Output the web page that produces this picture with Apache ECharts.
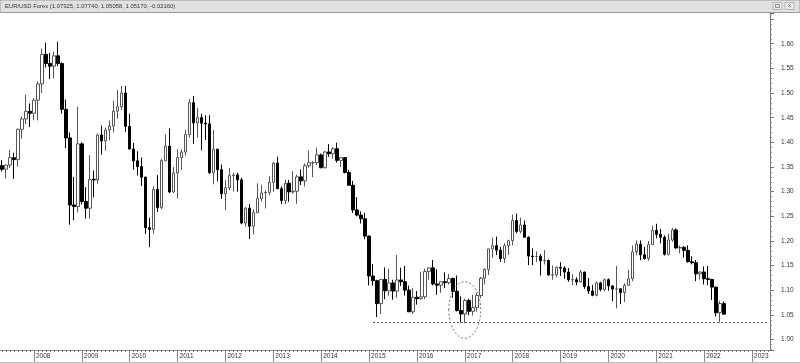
<!DOCTYPE html>
<html><head><meta charset="utf-8">
<script src="https://cdn.jsdelivr.net/npm/echarts@6/dist/echarts.min.js"></script>
<style>html,body{margin:0;padding:0;background:#fff}#c{width:800px;height:363px}</style>
</head><body><div id="c"></div>
<script>
// ---- data (monthly EUR/USD, May 2007 .. Jun 2022) ----
const symbolName = 'EUR/USD Forex';
const axisFirstYear = 2007;
const axisFirstMonth = 5;   // axis (and first candle) starts May 2007
const axisMonthCount = 193; // May 2007 .. May 2023
const yLabels = ['1.00','1.05','1.10','1.15','1.20','1.25','1.30','1.35','1.40','1.45','1.50','1.55','1.60'];

const opens = [
  1.3530,1.3455,1.3540,1.3690,1.3650,1.4265,1.4475,1.4630,
  1.4590,1.4855,1.5185,1.5785,1.5600,1.5545,1.5755,1.5600,1.4670,1.4090,1.2730,1.2700,
  1.3970,1.2800,1.2665,1.3250,1.3240,1.4150,1.4030,1.4250,1.4330,1.4635,1.4720,1.5000,
  1.4325,1.3865,1.3625,1.3510,1.3295,1.2270,1.2235,1.3045,1.2680,1.3630,1.3925,1.2995,
  1.3380,1.3690,1.3805,1.4160,1.4805,1.4395,1.4500,1.4390,1.4375,1.3385,1.3860,1.3445,
  1.2960,1.3080,1.3325,1.3340,1.3240,1.2365,1.2665,1.2300,1.2575,1.2860,1.2975,1.2985,
  1.3190,1.3580,1.3060,1.2820,1.3170,1.2995,1.3010,1.3300,1.3220,1.3525,1.3585,1.3590,
  1.3745,1.3485,1.3805,1.3770,1.3870,1.3635,1.3690,1.3390,1.3130,1.2630,1.2525,1.2450,
  1.2100,1.1290,1.1195,1.0730,1.1220,1.0990,1.1150,1.0985,1.1210,1.1175,1.1005,1.0565,
  1.0860,1.0830,1.0870,1.1380,1.1455,1.1130,1.1105,1.1175,1.1155,1.1240,1.0980,1.0590,
  1.0520,1.0795,1.0575,1.0650,1.0895,1.1245,1.1425,1.1840,1.1905,1.1815,1.1645,1.1905,
  1.2005,1.2415,1.2195,1.2325,1.2075,1.1695,1.1685,1.1690,1.1600,1.1605,1.1310,1.1315,
  1.1465,1.1450,1.1370,1.1215,1.1215,1.1170,1.1370,1.1075,1.0985,1.0900,1.1150,1.1015,
  1.1215,1.1090,1.1025,1.1030,1.0955,1.1100,1.1235,1.1780,1.1935,1.1720,1.1645,1.1925,
  1.2215,1.2135,1.2075,1.1730,1.2020,1.2225,1.1860,1.1870,1.1810,1.1580,1.1560,1.1335,
  1.1370,1.1235,1.1220,1.1065,1.0545,1.07325
];
const highs = [
  1.3640,1.3545,1.3850,1.3790,1.4280,1.4525,1.4965,1.4790,
  1.4900,1.5240,1.5905,1.6020,1.5815,1.5840,1.6040,1.5625,1.4870,1.4200,1.3300,1.4720,
  1.4000,1.3090,1.3740,1.3430,1.4180,1.4340,1.4300,1.4445,1.4840,1.5060,1.5145,1.5145,
  1.4580,1.3990,1.3820,1.3695,1.3305,1.2470,1.3110,1.3335,1.3670,1.4160,1.4280,1.3500,
  1.3860,1.3860,1.4250,1.4880,1.4940,1.4700,1.4580,1.4550,1.4550,1.4250,1.3870,1.3550,
  1.3235,1.3485,1.3385,1.3385,1.3285,1.2690,1.2750,1.2640,1.3170,1.3140,1.3030,1.3310,
  1.3600,1.3710,1.3110,1.3240,1.3240,1.3415,1.3345,1.3450,1.3570,1.3830,1.3620,1.3895,
  1.3775,1.3825,1.3965,1.3905,1.3995,1.3700,1.3700,1.3445,1.3220,1.2890,1.2600,1.2570,
  1.2110,1.1535,1.1215,1.1225,1.1465,1.1440,1.1215,1.1715,1.1460,1.1495,1.1095,1.1045,
  1.0985,1.1375,1.1440,1.1465,1.1615,1.1425,1.1185,1.1365,1.1330,1.1255,1.1300,1.0875,
  1.0830,1.0830,1.0905,1.0950,1.1270,1.1445,1.1845,1.2070,1.2090,1.1880,1.1960,1.2025,
  1.2535,1.2555,1.2475,1.2415,1.2095,1.1850,1.1790,1.1735,1.1815,1.1625,1.1500,1.1485,
  1.1570,1.1490,1.1450,1.1325,1.1265,1.1415,1.1380,1.1250,1.1110,1.1180,1.1175,1.1240,
  1.1240,1.1095,1.1495,1.1040,1.1140,1.1420,1.1910,1.2010,1.2010,1.1880,1.2000,1.2310,
  1.2350,1.2245,1.2115,1.2150,1.2265,1.2255,1.1910,1.1900,1.1910,1.1690,1.1615,1.1385,
  1.1485,1.1495,1.1235,1.1075,1.0785,1.07740
];
const lows = [
  1.3410,1.3265,1.3480,1.3260,1.3505,1.4070,1.4370,1.4310,
  1.4450,1.4445,1.5000,1.5520,1.5285,1.5300,1.5550,1.4585,1.3880,1.2330,1.2420,1.2580,
  1.2745,1.2455,1.2455,1.2885,1.3160,1.3750,1.3830,1.4040,1.4200,1.4480,1.4660,1.4215,
  1.3860,1.3445,1.3330,1.3115,1.2145,1.1875,1.2150,1.2590,1.2645,1.3620,1.2970,1.2970,
  1.2860,1.3440,1.3730,1.4100,1.3970,1.4100,1.3840,1.4050,1.3360,1.3150,1.3210,1.2855,
  1.2625,1.3030,1.3005,1.3000,1.2340,1.2290,1.2040,1.2135,1.2560,1.2800,1.2660,1.2925,
  1.3000,1.3055,1.2750,1.2745,1.2795,1.2960,1.2755,1.3135,1.3105,1.3485,1.3295,1.3545,
  1.3475,1.3475,1.3705,1.3670,1.3590,1.3500,1.3370,1.3125,1.2570,1.2500,1.2355,1.2035,
  1.1100,1.1095,1.0460,1.0520,1.0820,1.0890,1.0810,1.0850,1.1085,1.0895,1.0560,1.0520,
  1.0710,1.0810,1.0820,1.1215,1.1100,1.0910,1.0950,1.1045,1.1120,1.0850,1.0570,1.0350,
  1.0340,1.0495,1.0490,1.0570,1.0840,1.1120,1.1310,1.1660,1.1715,1.1575,1.1555,1.1715,
  1.1915,1.2155,1.2155,1.2070,1.1510,1.1510,1.1575,1.1300,1.1525,1.1300,1.1215,1.1265,
  1.1290,1.1235,1.1175,1.1110,1.1105,1.1160,1.1030,1.0925,1.0880,1.0880,1.0980,1.0980,
  1.0990,1.0775,1.0635,1.0725,1.0765,1.1095,1.1185,1.1710,1.1610,1.1620,1.1600,1.1920,
  1.2055,1.1950,1.1705,1.1705,1.1985,1.1845,1.1750,1.1665,1.1565,1.1525,1.1185,1.1220,
  1.1120,1.1105,1.0805,1.0470,1.0350,1.05058
];
const closes = [
  1.3455,1.3540,1.3690,1.3650,1.4265,1.4475,1.4630,1.4590,
  1.4855,1.5185,1.5785,1.5600,1.5545,1.5755,1.5600,1.4670,1.4090,1.2730,1.2700,1.3970,
  1.2800,1.2665,1.3250,1.3240,1.4150,1.4030,1.4250,1.4330,1.4635,1.4720,1.5000,1.4325,
  1.3865,1.3625,1.3510,1.3295,1.2270,1.2235,1.3045,1.2680,1.3630,1.3925,1.2995,1.3380,
  1.3690,1.3805,1.4160,1.4805,1.4395,1.4500,1.4390,1.4375,1.3385,1.3860,1.3445,1.2960,
  1.3080,1.3325,1.3340,1.3240,1.2365,1.2665,1.2300,1.2575,1.2860,1.2975,1.2985,1.3190,
  1.3580,1.3060,1.2820,1.3170,1.2995,1.3010,1.3300,1.3220,1.3525,1.3585,1.3590,1.3745,
  1.3485,1.3805,1.3770,1.3870,1.3635,1.3690,1.3390,1.3130,1.2630,1.2525,1.2450,1.2100,
  1.1290,1.1195,1.0730,1.1220,1.0990,1.1150,1.0985,1.1210,1.1175,1.1005,1.0565,1.0860,
  1.0830,1.0870,1.1380,1.1455,1.1130,1.1105,1.1175,1.1155,1.1240,1.0980,1.0590,1.0520,
  1.0795,1.0575,1.0650,1.0895,1.1245,1.1425,1.1840,1.1905,1.1815,1.1645,1.1905,1.2005,
  1.2415,1.2195,1.2325,1.2075,1.1695,1.1685,1.1690,1.1600,1.1605,1.1310,1.1315,1.1465,
  1.1450,1.1370,1.1215,1.1215,1.1170,1.1370,1.1075,1.0985,1.0900,1.1150,1.1015,1.1215,
  1.1090,1.1025,1.1030,1.0955,1.1100,1.1235,1.1780,1.1935,1.1720,1.1645,1.1925,1.2215,
  1.2135,1.2075,1.1730,1.2020,1.2225,1.1860,1.1870,1.1810,1.1580,1.1560,1.1335,1.1370,
  1.1235,1.1220,1.1065,1.0545,1.0733,1.05170
];
// annotations
const supportLevel = 1.0344;
const supportFrom = '2015-02';
const circleArea = { from: '2016-09', to: '2017-05', low: 1.0027, high: 1.1175 };

// ---- build ----
const months = [];
for (let i = 0; i < axisMonthCount; i++) {
  const t = (axisFirstMonth - 1) + i;
  const y = axisFirstYear + Math.floor(t / 12), m = t % 12 + 1;
  months.push(y + '-' + String(m).padStart(2, '0'));
}
const candles = opens.map((o, k) => [months[k], o, closes[k], lows[k], highs[k]]);
const n = opens.length;
const lastO = opens[n-1], lastH = highs[n-1], lastL = lows[n-1], lastC = closes[n-1];
const titleText = symbolName + ' (' + [lastO, lastH, lastL, lastC].map(v => v.toFixed(5)).join(', ') + ', ' + (lastC - closes[n-2]).toFixed(5) + ')';
const isJan = (i, v) => v.endsWith('-01');
const FONT = 'Liberation Sans';

const chart = echarts.init(document.getElementById('c'), null, { renderer: 'canvas' });
chart.setOption({
  animation: false,
  backgroundColor: '#ffffff',
  grid: { left: 0, right: 30, top: 13, bottom: 13, containLabel: false },
  xAxis: [
    { type: 'category', data: months, position: 'bottom', boundaryGap: true,
      axisLine: { show: true, lineStyle: { color: '#8a8a8a', width: 1 } },
      axisTick: { show: true, alignWithLabel: true, interval: 0, length: 2, lineStyle: { color: '#777' } },
      axisLabel: { show: false }, splitLine: { show: false } },
    { type: 'category', data: months, position: 'bottom', boundaryGap: true,
      axisLine: { show: false },
      axisTick: { show: true, alignWithLabel: true, interval: isJan, length: 13, lineStyle: { color: '#888' } },
      axisLabel: { show: true, interval: isJan, formatter: v => v.slice(0, 4), align: 'left', margin: 3,
        fontSize: 6.5, fontFamily: FONT, color: '#333', padding: [0, 0, 0, 2] },
      splitLine: { show: false } }
  ],
  yAxis: {
    type: 'value', position: 'right', min: 0.979, max: 1.6623, splitNumber: 14, scale: true,
    axisLine: { show: true, lineStyle: { color: '#777' } },
    axisTick: { show: true, length: 4, lineStyle: { color: '#777' } },
    minorTick: { show: true, splitNumber: 5, length: 2, lineStyle: { color: '#888' } },
    splitLine: { show: false }, minorSplitLine: { show: false },
    axisLabel: { margin: 11, fontSize: 6.5, fontFamily: FONT, color: '#333', showMinLabel: false, showMaxLabel: false,
      formatter: v => { const s = v.toFixed(2); return yLabels.includes(s) ? s : ''; } }
  },
  series: [{
    type: 'candlestick', xAxisIndex: 0, yAxisIndex: 0, data: candles,
    encode: { x: 0, y: [1, 2, 3, 4] },
    barWidth: 3,
    itemStyle: { color: '#ffffff', color0: '#000000', borderColor: '#555555', borderColor0: '#000000', borderWidth: 1 },
    markLine: {
      silent: true, symbol: ['none', 'none'], animation: false,
      lineStyle: { type: [2, 2], color: '#555', width: 1 },
      label: { show: false },
      data: [
        [{ coord: [supportFrom, supportLevel] }, { coord: [months[months.length - 1], supportLevel] }],
        { yAxis: lastC, lineStyle: { opacity: 0 },
          label: { show: true, position: 'end', distance: 2, formatter: lastC.toFixed(5),
            fontSize: 6.5, fontFamily: FONT, color: '#ff2a2a', backgroundColor: '#1c0000',
            borderColor: '#5a0000', borderWidth: 1, padding: [2, 2, 1, 2] } }
      ]
    }
  }],
  graphic: [
    { id: 'titlebar', type: 'rect', z: 100, shape: { x: 0, y: 0, width: 800, height: 12.5 },
      style: { fill: '#e1e1e1', stroke: '#9a9a9a', lineWidth: 1 } },
    { id: 'titletext', type: 'text', z: 101, x: 5, y: 6.5,
      style: { text: titleText, font: '5.9px "Liberation Sans"', fill: '#333', verticalAlign: 'middle' } },
    { id: 'btn1', type: 'rect', z: 101, shape: { x: 773, y: 2.5, width: 9, height: 7 },
      style: { fill: '#ececec', stroke: '#b5b5b5', lineWidth: 1 } },
    { id: 'btn1i', type: 'rect', z: 102, shape: { x: 775.5, y: 4.5, width: 4, height: 3 },
      style: { fill: 'none', stroke: '#777', lineWidth: 0.8 } },
    { id: 'btn2', type: 'rect', z: 101, shape: { x: 785, y: 2.5, width: 9, height: 7 },
      style: { fill: '#ececec', stroke: '#b5b5b5', lineWidth: 1 } },
    { id: 'btn2i', type: 'text', z: 102, x: 789.5, y: 6,
      style: { text: '×', font: '7px "Liberation Sans"', fill: '#666', align: 'center', verticalAlign: 'middle' } },
    { id: 'bottomline', type: 'rect', z: 100, shape: { x: 0, y: 362, width: 800, height: 1 },
      style: { fill: '#bdbdbd' } }
  ]
});

// dashed ellipse annotation positioned through the chart's own scales
const pA = chart.convertToPixel({ xAxisIndex: 0, yAxisIndex: 0 }, [circleArea.from, circleArea.high]);
const pB = chart.convertToPixel({ xAxisIndex: 0, yAxisIndex: 0 }, [circleArea.to, circleArea.low]);
chart.setOption({ graphic: [{ id: 'circle', type: 'ellipse', z: 50,
  shape: { cx: (pA[0] + pB[0]) / 2, cy: (pA[1] + pB[1]) / 2, rx: Math.abs(pB[0] - pA[0]) / 2, ry: Math.abs(pB[1] - pA[1]) / 2 },
  style: { fill: 'none', stroke: '#777', lineWidth: 1, lineDash: [2, 2] } }] });
</script></body></html>
